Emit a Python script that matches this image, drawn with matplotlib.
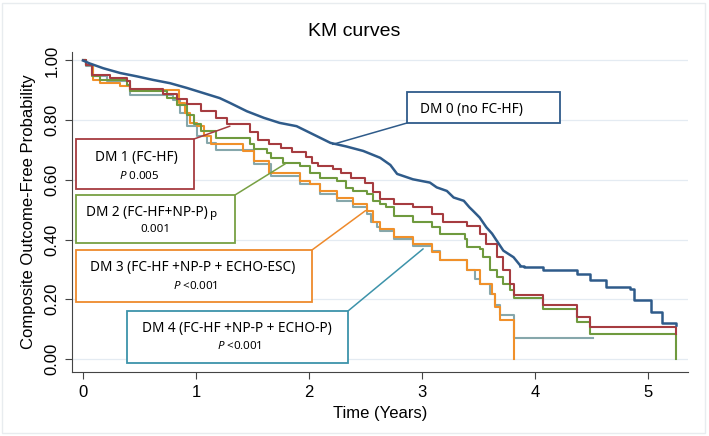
import numpy as np
import matplotlib
matplotlib.use('Agg')
import matplotlib.pyplot as plt
from matplotlib.patches import Rectangle, ConnectionPatch

plt.rcParams['font.family'] = ['Liberation Sans', 'DejaVu Sans']
plt.rcParams['mathtext.fontset'] = 'custom'
plt.rcParams['mathtext.it'] = 'Noto Sans:italic'
plt.rcParams['mathtext.rm'] = 'Noto Sans'

# ---------------- KM step data (time in years, survival) ----------------
t_dm0 = [0, 0.06, 0.18, 0.33, 0.475, 0.62, 0.77, 0.92, 1.065, 1.21, 1.30, 1.45, 1.60,
         1.74, 1.89, 2.04, 2.19, 2.33, 2.48, 2.63, 2.72, 2.78, 2.92, 3.07, 3.13, 3.22,
         3.28, 3.37, 3.42, 3.45, 3.51, 3.57, 3.62, 3.66, 3.72, 3.81, 3.87, 3.90, 4.07,
         4.37, 4.49, 4.63, 4.84, 4.88, 5.03, 5.12, 5.25]
s_dm0 = [1.0, 0.99, 0.974, 0.958, 0.947, 0.935, 0.924, 0.908, 0.891, 0.874, 0.858, 0.830,
         0.808, 0.791, 0.78, 0.752, 0.724, 0.712, 0.697, 0.674, 0.650, 0.620, 0.602, 0.591,
         0.575, 0.563, 0.541, 0.530, 0.508, 0.497, 0.474, 0.441, 0.42, 0.397, 0.363, 0.341,
         0.313, 0.308, 0.297, 0.285, 0.263, 0.241, 0.236, 0.197, 0.158, 0.119, 0.113]

t_dm1 = [0, 0.03, 0.08, 0.24, 0.39, 0.42, 0.71, 0.83, 0.92, 1.04, 1.18, 1.27, 1.48, 1.55,
         1.65, 1.75, 1.85, 1.97, 2.03, 2.08, 2.21, 2.28, 2.37, 2.50, 2.57, 2.63, 2.75, 2.92,
         3.09, 3.19, 3.40, 3.51, 3.57, 3.66, 3.72, 3.78, 3.81, 4.07, 4.37, 4.49, 5.25]
s_dm1 = [1.0, 0.985, 0.952, 0.941, 0.93, 0.905, 0.889, 0.87, 0.853, 0.83, 0.808, 0.786,
         0.76, 0.735, 0.72, 0.708, 0.694, 0.676, 0.658, 0.647, 0.636, 0.624, 0.608, 0.590,
         0.56, 0.535, 0.519, 0.508, 0.486, 0.460, 0.444, 0.419, 0.386, 0.341, 0.297, 0.25,
         0.215, 0.18, 0.141, 0.106, 0.085]

t_dm2 = [0, 0.03, 0.077, 0.15, 0.39, 0.42, 0.74, 0.83, 0.92, 0.98, 1.04, 1.18, 1.48, 1.51,
         1.63, 1.66, 1.77, 1.92, 2.01, 2.10, 2.25, 2.33, 2.39, 2.51, 2.57, 2.63, 2.68, 2.75,
         2.92, 3.09, 3.16, 3.38, 3.40, 3.51, 3.54, 3.60, 3.66, 3.72, 3.78, 3.81, 4.07, 4.37,
         4.49, 5.25]
s_dm2 = [1.0, 0.985, 0.947, 0.936, 0.919, 0.897, 0.874, 0.852, 0.819, 0.786, 0.763, 0.741,
         0.719, 0.702, 0.691, 0.674, 0.658, 0.647, 0.624, 0.608, 0.597, 0.574, 0.563, 0.552,
         0.53, 0.519, 0.508, 0.48, 0.458, 0.441, 0.419, 0.402, 0.374, 0.369, 0.341, 0.297,
         0.274, 0.252, 0.23, 0.205, 0.166, 0.124, 0.083, 0.0]

t_dm3 = [0, 0.03, 0.09, 0.15, 0.33, 0.42, 0.85, 0.90, 0.95, 1.01, 1.07, 1.13, 1.42, 1.51,
         1.65, 1.92, 2.01, 2.10, 2.25, 2.39, 2.51, 2.57, 2.63, 2.75, 2.92, 3.09, 3.16, 3.40,
         3.51, 3.62, 3.65, 3.69, 3.81]
s_dm3 = [1.0, 0.985, 0.936, 0.924, 0.913, 0.902, 0.858, 0.824, 0.791, 0.78, 0.747, 0.72,
         0.697, 0.663, 0.624, 0.597, 0.586, 0.563, 0.541, 0.519, 0.497, 0.46, 0.436, 0.408,
         0.386, 0.36, 0.33, 0.297, 0.252, 0.219, 0.174, 0.13, 0.0]

t_dm4 = [0, 0.03, 0.09, 0.21, 0.42, 0.80, 0.86, 0.92, 1.01, 1.10, 1.18, 1.51, 1.66, 1.92,
         2.10, 2.25, 2.39, 2.51, 2.55, 2.60, 2.63, 2.75, 2.92, 3.09, 3.16, 3.40, 3.47, 3.51,
         3.60, 3.65, 3.69, 3.81, 4.51]
s_dm4 = [1.0, 0.98, 0.947, 0.93, 0.886, 0.869, 0.824, 0.78, 0.747, 0.724, 0.70, 0.652,
         0.613, 0.586, 0.552, 0.53, 0.508, 0.486, 0.46, 0.441, 0.43, 0.402, 0.38, 0.363,
         0.33, 0.297, 0.269, 0.252, 0.219, 0.18, 0.147, 0.071, 0.071]

labels = ['DM 0 (no FC-HF)', 'DM 1 (FC-HF)', 'DM 2 (FC-HF+NP-P)',
          'DM 3 (FC-HF +NP-P + ECHO-ESC)', 'DM 4 (FC-HF +NP-P + ECHO-P)']
pvals = ['', r'$P$ 0.005', '0.001', r'$P$ <0.001', r'$P$ <0.001']

W, H = 709, 436
def px(x, y):
    return (x / W, 1 - y / H)

fig = plt.figure(figsize=(W / 100, H / 100), dpi=100)
ax = fig.add_axes([72 / W, 1 - 372 / H, (688 - 72) / W, (372 - 52) / H])

c0, c1, c2, c3, c4 = '#2f5b8a', '#a63c40', '#6f9a3e', '#f0902a', '#86a7ab'
ax.step(t_dm4, s_dm4, where='post', color=c4, lw=1.5)
ax.step(t_dm3, s_dm3, where='post', color=c3, lw=1.5)
ax.step(t_dm2, s_dm2, where='post', color=c2, lw=1.5)
ax.step(t_dm1, s_dm1, where='post', color=c1, lw=1.5)
# DM 0 has many tiny steps early on: draw that part as a fine line,
# the sparse tail as real steps
k = t_dm0.index(3.87)
ax.plot(t_dm0[:k + 1], s_dm0[:k + 1], color=c0, lw=1.8)
ax.step(t_dm0[k:], s_dm0[k:], where='post', color=c0, lw=1.8)

ax.set_xlim(-11 / 113, 5.354)
ax.set_ylim(-13 / 298.5, 307 / 298.5)
ax.set_xticks(range(6))
ax.set_yticks([0, 0.2, 0.4, 0.6, 0.8, 1.0])
ax.set_yticklabels(['%.2f' % v for v in [0, 0.2, 0.4, 0.6, 0.8, 1.0]],
                   rotation=90, va='center')
ax.tick_params(direction='out', length=5, color='#444444', labelsize=12, pad=4)
for s in ['top', 'right']:
    ax.spines[s].set_visible(False)
for s in ['left', 'bottom']:
    ax.spines[s].set_color('#444444')
ax.yaxis.grid(True, color='#e4ebf2', lw=0.9)
ax.set_axisbelow(True)
ax.set_xlabel('Time (Years)', fontsize=12, labelpad=5)
ax.set_ylabel('Composite Outcome-Free Probability', fontsize=12, labelpad=6)
fig.text(0.5, 1 - 32 / H, 'KM curves', ha='center', va='center', fontsize=14)

# figure border
fig.add_artist(Rectangle((0.003, 0.006), 0.992, 0.988, transform=fig.transFigure,
                         fill=False, ec='#e8ecef', lw=1))

# callout boxes: (x0, y0, x1, y1) in pixels, anchor corner, target on curve
boxes = [
    (407, 92, 560, 123, c0, (407, 123), (2.21, 0.719), (471, 109)),
    (76, 139, 194, 189, c1, (194, 139), (1.30, 0.78), (136, 158)),
    (76, 195, 235, 243, '#77a043', (235, 195), (1.79, 0.654), (147, 212)),
    (76, 250, 312, 302, '#ee8a2c', (312, 250), (2.50, 0.497), (193, 268)),
    (127, 311, 348, 363, '#3d93aa', (348, 311), (3.01, 0.369), (237, 328)),
]
for i, (x0, y0, x1, y1, col, anc, tgt, tp) in enumerate(boxes):
    con = ConnectionPatch(xyA=px(*anc), coordsA='figure fraction', xyB=tgt,
                          coordsB='data', axesB=ax, color=col, lw=1.1, zorder=6)
    fig.add_artist(con)
    fig.add_artist(Rectangle(px(x0, y1), (x1 - x0) / W, (y1 - y0) / H,
                             transform=fig.transFigure, fc='white', ec=col,
                             lw=1.3, zorder=7))
    fig.text(*px(*tp), labels[i], ha='center', va='center', fontsize=9.8,
             family='Noto Sans', zorder=8)
    if pvals[i]:
        fig.text(*px(tp[0] + (8 if i == 2 else 3), tp[1] + 18), pvals[i],
                 ha='center', va='center', fontsize=8.3, family='Noto Sans', zorder=8)
fig.text(*px(214, 214), 'p', ha='center', va='center', fontsize=8.3,
         family='Noto Sans', zorder=8)

fig.savefig('out.png', dpi=100)
